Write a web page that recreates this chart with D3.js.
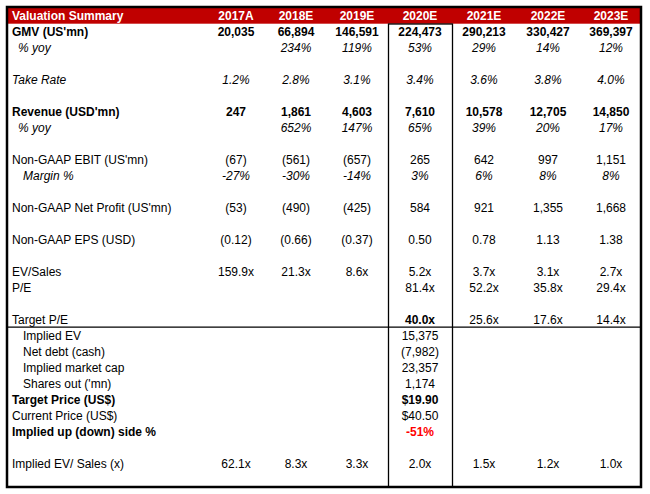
<!DOCTYPE html>
<html>
<head>
<meta charset="utf-8">
<script src="https://cdn.jsdelivr.net/npm/d3@7"></script>
<style>
  html, body { margin: 0; padding: 0; background: #ffffff; }
  svg { display: block; }
  text { font-family: "Liberation Sans", Arial, sans-serif; font-size: 12px; }
</style>
</head>
<body>
<svg id="chart" width="650" height="494"></svg>
<script>
// ---------- data ----------
const title = "Valuation Summary";
const years = ["2017A", "2018E", "2019E", "2020E", "2021E", "2022E", "2023E"];
const gmv = [20035, 66894, 146591, 224473, 290213, 330427, 369397];
const gmvYoy = [null, 234, 119, 53, 29, 14, 12];
const takeRate = [1.2, 2.8, 3.1, 3.4, 3.6, 3.8, 4.0];
const revenue = [247, 1861, 4603, 7610, 10578, 12705, 14850];
const revenueYoy = [null, 652, 147, 65, 39, 20, 17];
const ebit = [-67, -561, -657, 265, 642, 997, 1151];
const ebitMargin = [-27, -30, -14, 3, 6, 8, 8];
const netProfit = [-53, -490, -425, 584, 921, 1355, 1668];
const eps = [-0.12, -0.66, -0.37, 0.50, 0.78, 1.13, 1.38];
const evSales = [159.9, 21.3, 8.6, 5.2, 3.7, 3.1, 2.7];
const pe = [null, null, null, 81.4, 52.2, 35.8, 29.4];
const targetPE = [null, null, null, 40.0, 25.6, 17.6, 14.4];
const impliedEV = 15375;
const netDebt = -7982;
const impliedMktCap = 23357;
const sharesOut = 1174;
const targetPrice = 19.90;
const currentPrice = 40.50;
const upside = -51;
const impliedEvSales = [62.1, 8.3, 3.3, 2.0, 1.5, 1.2, 1.0];
const valYear = "2020E";

// ---------- formatters ----------
const loc = d3.formatLocale({ decimal: ".", thousands: ",", grouping: [3], currency: ["$", ""], minus: "-" });
const acct = loc.format(",");
const fAcct = v => v < 0 ? "(" + acct(-v) + ")" : acct(v);
const fEps = v => v < 0 ? "(" + loc.format(".2f")(-v) + ")" : loc.format(".2f")(v);
const fPct0 = v => loc.format(".0f")(v) + "%";
const fPct1 = v => loc.format(".1f")(v) + "%";
const fMult = v => loc.format(".1f")(v) + "x";
const fUsd = v => "$" + loc.format(".2f")(v);

// ---------- row definitions ----------
const rows = [
  { r: 1, label: "GMV (US'mn)", vals: gmv, f: fAcct, bold: true },
  { r: 2, label: "% yoy", vals: gmvYoy, f: fPct0, italic: true, indent: 1 },
  { r: 4, label: "Take Rate", vals: takeRate, f: fPct1, italic: true },
  { r: 6, label: "Revenue (USD'mn)", vals: revenue, f: fAcct, bold: true },
  { r: 7, label: "% yoy", vals: revenueYoy, f: fPct0, italic: true, indent: 1 },
  { r: 9, label: "Non-GAAP EBIT (US'mn)", vals: ebit, f: fAcct },
  { r: 10, label: "Margin %", vals: ebitMargin, f: fPct0, italic: true, indent: 2 },
  { r: 12, label: "Non-GAAP Net Profit (US'mn)", vals: netProfit, f: fAcct },
  { r: 14, label: "Non-GAAP EPS (USD)", vals: eps, f: fEps },
  { r: 16, label: "EV/Sales", vals: evSales, f: fMult },
  { r: 17, label: "P/E", vals: pe, f: fMult },
  { r: 19, label: "Target P/E", vals: targetPE, f: fMult, boldCol: valYear },
  { r: 20, label: "Implied EV", single: impliedEV, f: fAcct, indent: 2 },
  { r: 21, label: "Net debt (cash)", single: netDebt, f: fAcct, indent: 2 },
  { r: 22, label: "Implied market cap", single: impliedMktCap, f: fAcct, indent: 2 },
  { r: 23, label: "Shares out ('mn)", single: sharesOut, f: fAcct, indent: 2 },
  { r: 24, label: "Target Price (US$)", single: targetPrice, f: fUsd, bold: true },
  { r: 25, label: "Current Price (US$)", single: currentPrice, f: fUsd },
  { r: 26, label: "Implied up (down) side %", single: upside, f: fPct0, bold: true, valColor: "#FF0000" },
  { r: 28, label: "Implied EV/ Sales (x)", vals: impliedEvSales, f: fMult }
];

// ---------- layout ----------
const W = 650, H = 494;
const frame = { x0: 7, y0: 7, x1: 641, y1: 487 };
const labelX = [12, 18, 23];
const colStart = 206;
const colWidths = [60, 60, 62, 64, 64, 64, 62];
const edges = [colStart];
colWidths.forEach(w => edges.push(edges[edges.length - 1] + w));
const centers = colWidths.map((w, i) => edges[i] + w / 2);

const x = d3.scaleOrdinal().domain(years).range(centers);
const xEdge = d3.scaleOrdinal().domain(years).range(edges.slice(0, -1));
const y = d3.scaleBand().domain(d3.range(30)).range([frame.y0 + 0.7, frame.y0 + 0.7 + 30 * 16]);
const baseline = i => y(i) + y.bandwidth() / 2 + 4.3;

const svg = d3.select("#chart");
svg.append("rect").attr("width", W).attr("height", H).attr("fill", "#ffffff");

// header band
svg.append("rect")
  .attr("x", frame.x0 + 1).attr("y", frame.y0 + 1)
  .attr("width", frame.x1 - frame.x0 - 2).attr("height", y(1) - frame.y0 - 1)
  .attr("fill", "#C00000");

// header texts
svg.append("text").attr("x", labelX[0]).attr("y", baseline(0))
  .attr("fill", "#ffffff").attr("font-weight", "bold").text(title);
svg.selectAll("text.hdr").data(years).join("text")
  .attr("class", "hdr")
  .attr("x", d => x(d)).attr("y", baseline(0))
  .attr("text-anchor", "middle").attr("fill", "#ffffff").attr("font-weight", "bold")
  .text(d => d);

// 2020E box
const bx = xEdge(valYear) + 0.5;
const bw = colWidths[years.indexOf(valYear)];
svg.append("rect")
  .attr("x", bx).attr("y", y(1) + 0.3)
  .attr("width", bw).attr("height", frame.y1 - y(1))
  .attr("fill", "none").attr("stroke", "#000").attr("stroke-width", 1.3);

// separator below Target P/E
svg.append("line")
  .attr("x1", frame.x0).attr("x2", frame.x1)
  .attr("y1", y(20) - 0.5).attr("y2", y(20) - 0.5)
  .attr("stroke", "#000").attr("stroke-width", 1.3);

// row labels
svg.selectAll("text.lbl").data(rows).join("text")
  .attr("class", "lbl")
  .attr("x", d => labelX[d.indent || 0])
  .attr("y", d => baseline(d.r))
  .attr("fill", "#000")
  .attr("font-weight", d => d.bold ? "bold" : "normal")
  .attr("font-style", d => d.italic ? "italic" : "normal")
  .text(d => d.label);

// cells
const cells = [];
rows.forEach(row => {
  if (row.vals) {
    row.vals.forEach((v, i) => {
      if (v === null) return;
      cells.push({ row, year: years[i], text: row.f(v),
        bold: row.bold || row.boldCol === years[i] });
    });
  } else {
    cells.push({ row, year: valYear, text: row.f(row.single), bold: row.bold });
  }
});

svg.selectAll("text.cell").data(cells).join("text")
  .attr("class", "cell")
  .attr("x", d => x(d.year))
  .attr("y", d => baseline(d.row.r))
  .attr("text-anchor", "middle")
  .attr("fill", d => d.row.valColor || "#000")
  .attr("font-weight", d => d.bold ? "bold" : "normal")
  .attr("font-style", d => d.row.italic ? "italic" : "normal")
  .text(d => d.text);

// outer thick frame
svg.append("rect")
  .attr("x", frame.x0).attr("y", frame.y0)
  .attr("width", frame.x1 - frame.x0).attr("height", frame.y1 - frame.y0)
  .attr("fill", "none").attr("stroke", "#000").attr("stroke-width", 2.5);
</script>
</body>
</html>
